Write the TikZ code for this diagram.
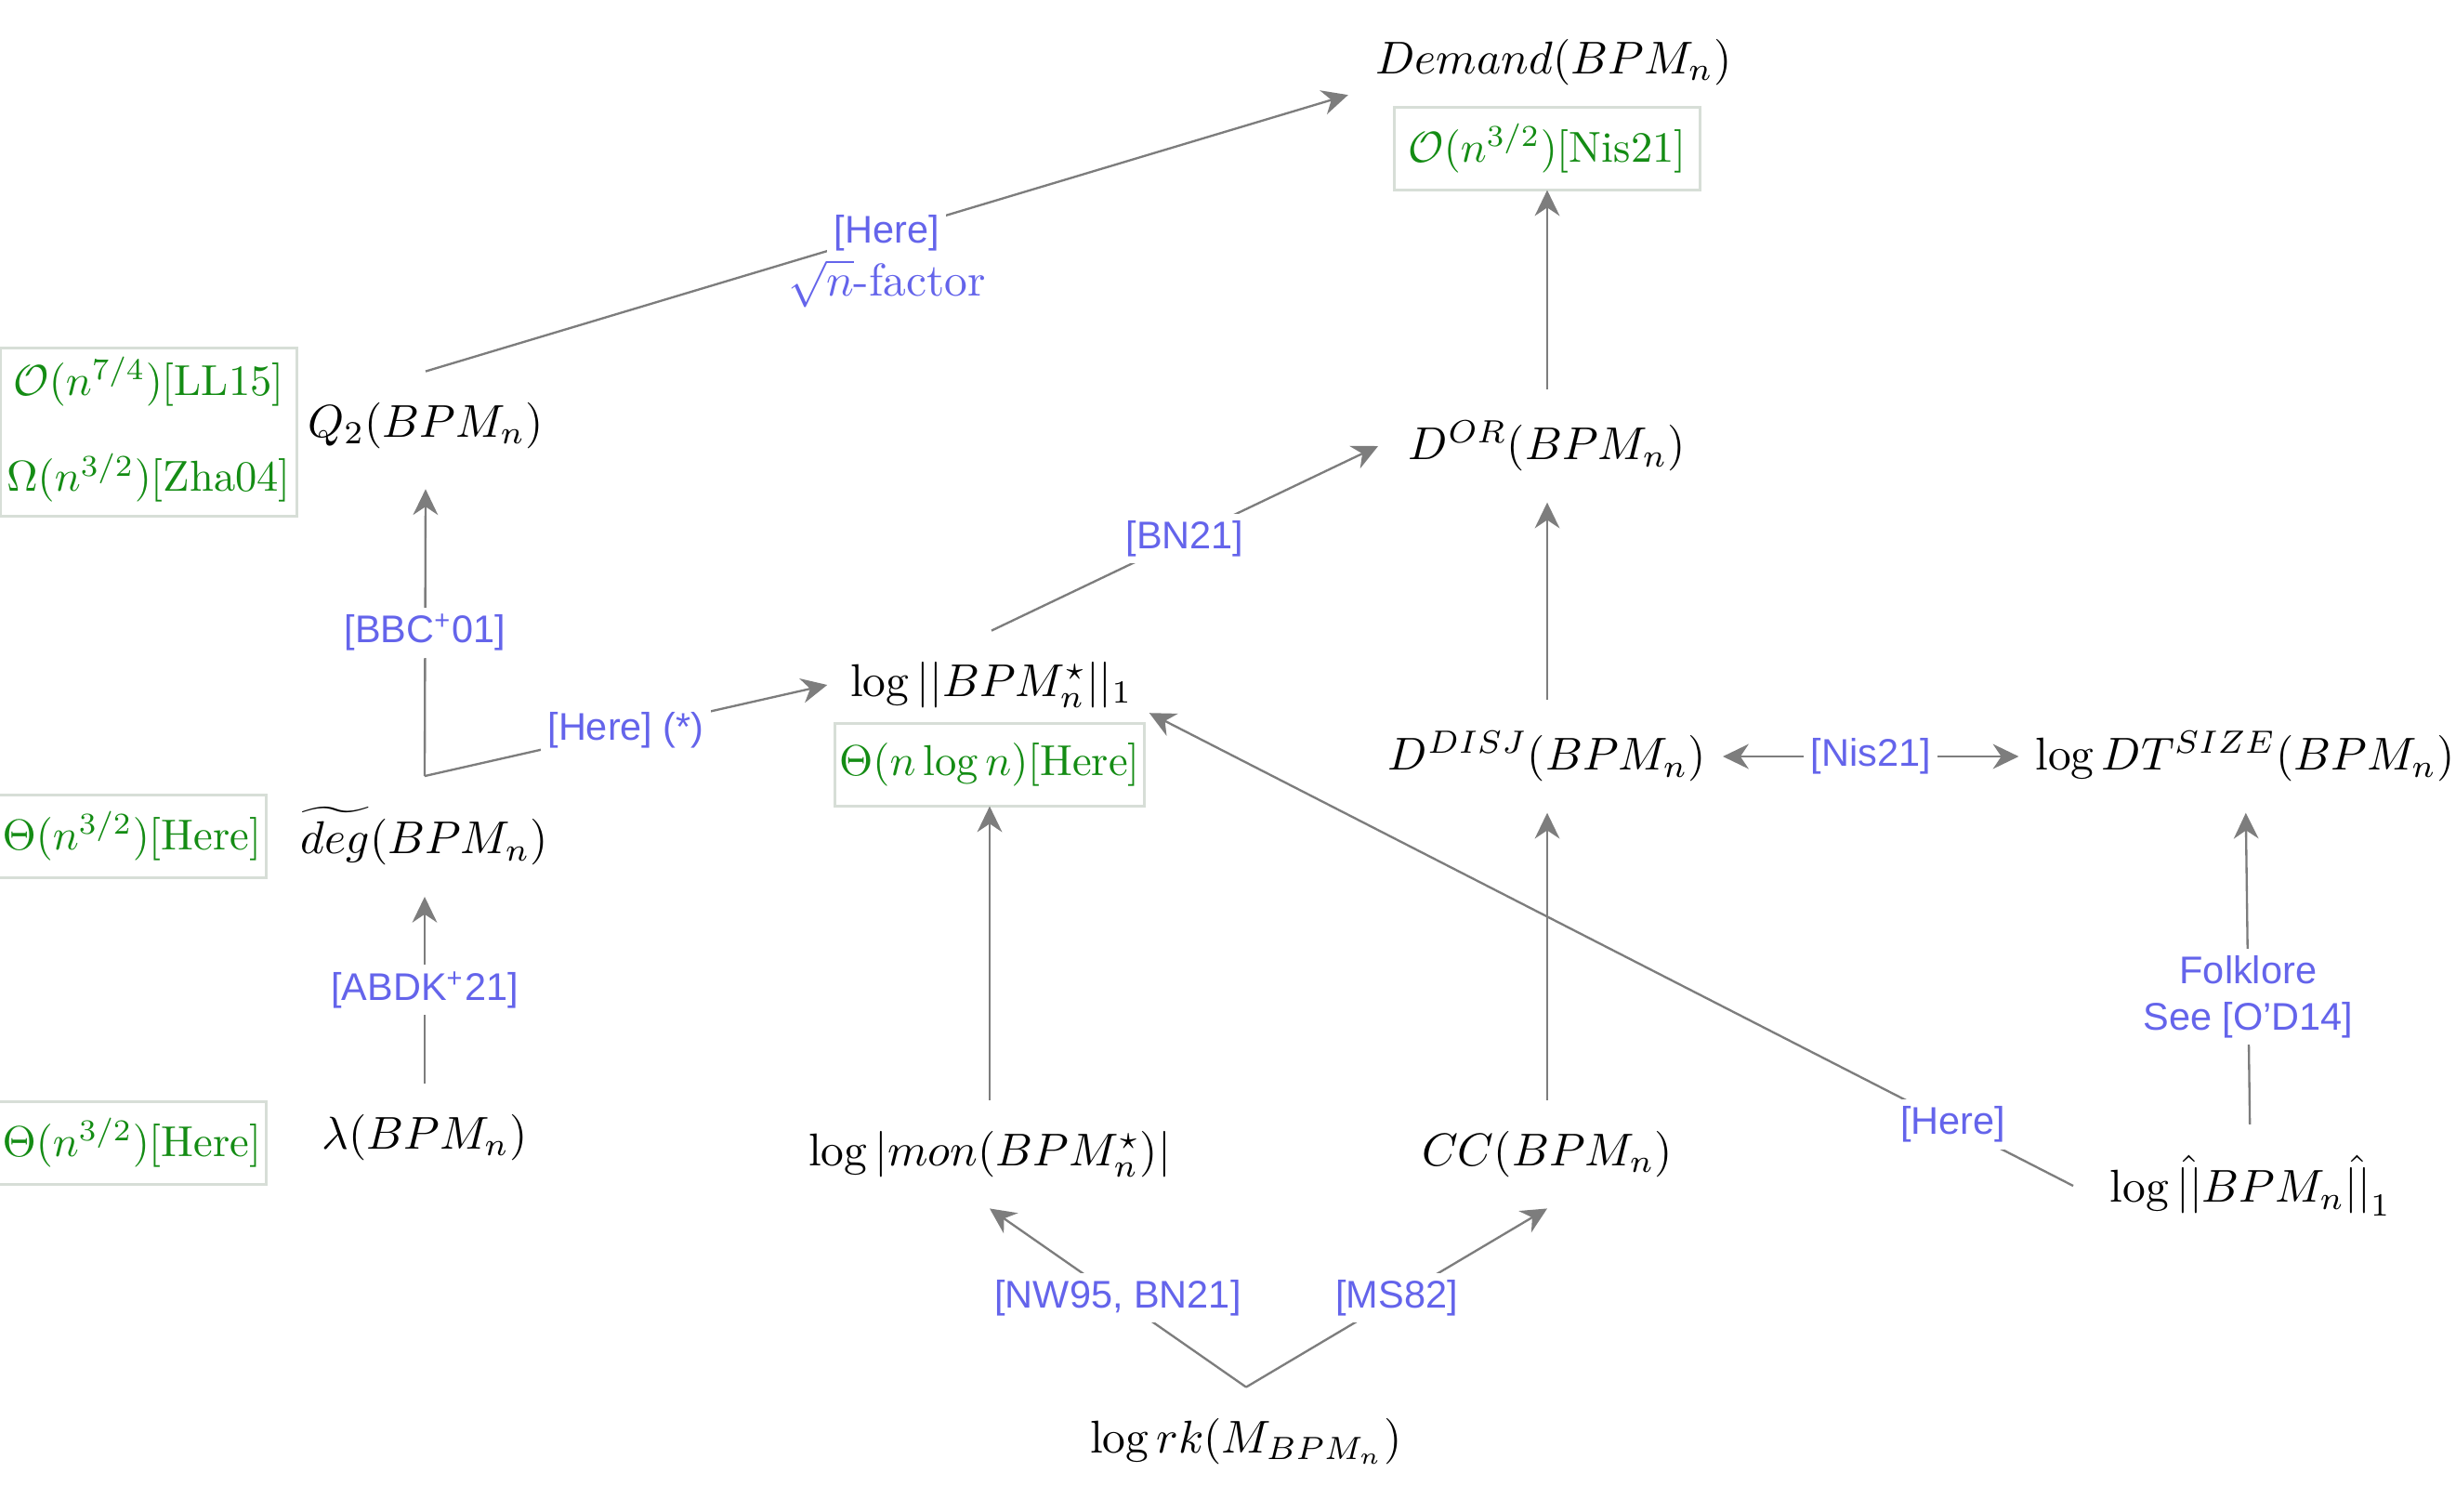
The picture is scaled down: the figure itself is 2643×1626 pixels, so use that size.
\documentclass[tikz,border=0pt]{standalone}
\usepackage{fontspec}
\usepackage{graphicx}
\setsansfont{Liberation Sans}
\usetikzlibrary{arrows.meta}
\definecolor{grn}{RGB}{20,140,20}
\definecolor{lblue}{RGB}{100,100,235}
\definecolor{agray}{RGB}{125,125,125}
\definecolor{boxline}{RGB}{215,222,215}
\newcommand{\grntxt}[1]{\scalebox{0.94}{#1}}
\tikzset{
  mainnode/.style={inner xsep=3.64pt, inner ysep=6.8pt, outer sep=0pt, font=\normalsize},
  boundbox/.style={draw=boxline, line width=0.6pt, fill=white, text=grn, inner sep=1pt, outer sep=0pt,
    minimum height=18pt, align=center, font=\normalsize},
  tip/.tip={Stealth[length=5.6pt,width=5.4pt,inset=1.8pt]},
  arr/.style={draw=agray, line width=0.47pt, -tip},
  darr/.style={draw=agray, line width=0.47pt, tip-tip},
  lbl/.style={fill=white, text=lblue, inner sep=1.5pt, align=center, font=\sffamily\fontsize{8.38}{10.1}\selectfont},
  serlbl/.style={text=lblue, inner sep=1pt, font=\normalsize},
}
\begin{document}
\begin{tikzpicture}[x=0.202pt, y=-0.202pt]
\useasboundingbox[fill=white] (0,0) rectangle (2643,1626);

% main nodes
\node[mainnode] (dem)   at (1672,67)   {$Demand(BPM_n)$};
\node[mainnode] (dor)   at (1665,480)  {$D^{OR}(BPM_n)$};
\node[mainnode] (ddisj) at (1665,814)  {$D^{DISJ}(BPM_n)$};
\node[mainnode] (dt)    at (2416,814)  {$\log DT^{SIZE}(BPM_n)$};
\node[mainnode] (cc)    at (1665,1242) {$CC(BPM_n)$};
\node[mainnode] (mon)   at (1065,1242) {$\log|mon(BPM_n^\star)|$};
\node[mainnode] (l1)    at (1067,737)  {$\log||BPM_n^\star||_1$};
\node[mainnode] (rk)    at (1341,1551) {$\log rk(M_{BPM_n})$};
\node[mainnode] (hat)   at (2422,1276) {$\log \hat{||}BPM_n\hat{||}_1$};
\node[mainnode] (q2)    at (458,458)   {$Q_2(BPM_n)$};
\node[mainnode] (deg)   at (457,900)   {$\widetilde{deg}(BPM_n)$};
\node[mainnode] (lam)   at (457,1224)  {$\lambda(BPM_n)$};

% bound boxes
\node[boundbox, minimum width=66.5pt] (demb) at (1665,160) {\grntxt{$\mathcal{O}(n^{3/2})$[Nis21]}};
\node[boundbox, minimum width=66.9pt] (l1b) at (1065,823) {\grntxt{$\Theta(n\log n)$[Here]}};
\node[boundbox, minimum width=64.4pt, minimum height=36.5pt] (q2b) at (160,465)
  {\grntxt{\begin{tabular}{@{}c@{}}$\mathcal{O}(n^{7/4})$[LL15]\\[9.7pt]$\Omega(n^{3/2})$[Zha04]\end{tabular}}};
\node[boundbox, minimum width=57.2pt] (degb) at (142,900) {\grntxt{$\Theta(n^{3/2})$[Here]}};
\node[boundbox, minimum width=57.2pt] (lamb) at (142,1230) {\grntxt{$\Theta(n^{3/2})$[Here]}};

% connectors
\draw[arr] (dor) -- (demb);
\draw[arr] (ddisj) -- (dor);
\draw[arr] (cc) -- (ddisj);
\draw[arr] (mon) -- (l1b);
\draw[arr] (rk.north) -- (mon.south) node[lbl, midway] {[NW95, BN21]};
\draw[arr] (rk.north) -- (cc.south) node[lbl, midway] {[MS82]};
\draw[arr] (l1.north) -- ([xshift=-3pt]dor.west) node[lbl, midway] {[BN21]};
\draw[darr] (ddisj) -- (dt) node[lbl, midway] {[Nis21]};
\draw[arr] (hat) -- (dt) node[lbl, pos=0.41] {Folklore\\See [O'D14]};
\draw[arr] ([xshift=-4.4pt]hat.west) -- ([yshift=-6.1pt]l1.east) node[lbl, pos=0.13] {[Here]};
\draw[arr] (q2.north) -- ([xshift=-2.4pt,yshift=4.7pt]dem.south west)
  node[lbl, midway] {[Here]}
  node[serlbl, midway, yshift=-10.9pt] {$\sqrt{n}$-factor};
\draw[arr] (lam) -- (deg) node[lbl, midway] {[ABDK\textsuperscript{+}21]};
\draw[arr] (deg.north) -- ([yshift=-2pt]q2.south) node[lbl, midway] {[BBC\textsuperscript{+}01]};
\draw[arr] (deg.north) -- ([xshift=-1.4pt]l1.west) node[lbl, midway] {[Here] (*)};
\end{tikzpicture}
\end{document}
